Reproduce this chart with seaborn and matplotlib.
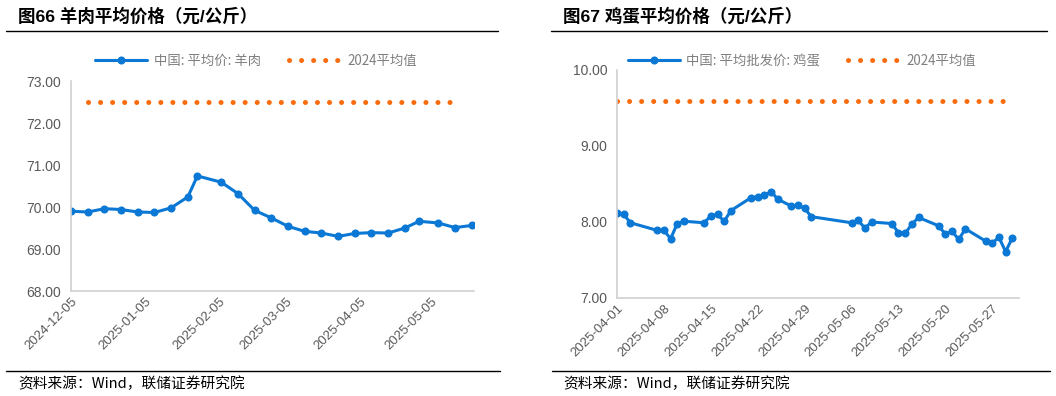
import matplotlib
matplotlib.use("Agg")
import matplotlib.pyplot as plt
import matplotlib.dates as mdates
from matplotlib.lines import Line2D
from matplotlib.ticker import FormatStrFormatter
import seaborn as sns
import pandas as pd

# ---------------- data ----------------
lamb_dates = ["2024-12-05", "2024-12-12", "2024-12-19", "2024-12-26", "2025-01-02",
              "2025-01-09", "2025-01-16", "2025-01-23", "2025-01-27", "2025-02-06",
              "2025-02-13", "2025-02-20", "2025-02-27", "2025-03-06", "2025-03-13",
              "2025-03-20", "2025-03-27", "2025-04-03", "2025-04-10", "2025-04-17",
              "2025-04-24", "2025-04-30", "2025-05-08", "2025-05-15", "2025-05-22"]
lamb_price = [69.90, 69.88, 69.96, 69.94, 69.88, 69.87, 69.98, 70.24, 70.74, 70.59,
              70.32, 69.92, 69.74, 69.54, 69.42, 69.38, 69.30, 69.37, 69.39, 69.38,
              69.50, 69.66, 69.62, 69.51, 69.56]
lamb_avg_dates = ["2024-12-12", "2025-05-13"]
lamb_avg = 72.50

egg_dates = ["2025-04-01", "2025-04-02", "2025-04-03", "2025-04-07", "2025-04-08",
             "2025-04-09", "2025-04-10", "2025-04-11", "2025-04-14", "2025-04-15",
             "2025-04-16", "2025-04-17", "2025-04-18", "2025-04-21", "2025-04-22",
             "2025-04-23", "2025-04-24", "2025-04-25", "2025-04-27", "2025-04-28",
             "2025-04-29", "2025-04-30", "2025-05-06", "2025-05-07", "2025-05-08",
             "2025-05-09", "2025-05-12", "2025-05-13", "2025-05-14", "2025-05-15",
             "2025-05-16", "2025-05-19", "2025-05-20", "2025-05-21", "2025-05-22",
             "2025-05-23", "2025-05-26", "2025-05-27", "2025-05-28", "2025-05-29",
             "2025-05-30"]
egg_price = [8.12, 8.10, 7.99, 7.89, 7.89, 7.78, 7.98, 8.01, 7.99, 8.08,
             8.10, 8.01, 8.15, 8.32, 8.33, 8.35, 8.40, 8.30, 8.21, 8.22,
             8.18, 8.07, 7.99, 8.02, 7.92, 8.00, 7.98, 7.86, 7.85, 7.97,
             8.06, 7.95, 7.84, 7.88, 7.77, 7.91, 7.75, 7.72, 7.80, 7.61,
             7.79]
egg_avg_dates = ["2025-04-01", "2025-05-29"]
egg_avg = 9.59

lamb_ticks = ["2024-12-05", "2025-01-05", "2025-02-05", "2025-03-05", "2025-04-05", "2025-05-05"]
egg_ticks = ["2025-04-01", "2025-04-08", "2025-04-15", "2025-04-22", "2025-04-29",
             "2025-05-06", "2025-05-13", "2025-05-20", "2025-05-27"]
lamb_yticks = [68, 69, 70, 71, 72, 73]
egg_yticks = [7, 8, 9, 10]

titles = ["图66 羊肉平均价格（元/公斤）", "图67 鸡蛋平均价格（元/公斤）"]
series_names = ["中国: 平均价: 羊肉", "中国: 平均批发价: 鸡蛋"]
avg_name = "2024平均值"
source = "资料来源：Wind，联储证券研究院"

# ---------------- style ----------------
sns.set_style("white")
plt.rcParams["font.family"] = ["Liberation Sans", "Noto Sans CJK SC", "DejaVu Sans"]

BLUE = "#0A78D4"
ORANGE = "#F96B0C"
GRAY = "#595959"
SPINE = "#D0D0D0"

fig = plt.figure(figsize=(10.56, 3.96), dpi=100)
W, H = 1056, 396

def fx(px):
    return px / W

def fy(py):
    return 1 - py / H

ax1 = fig.add_axes([fx(71), fy(291), fx(474) - fx(71), fy(81) - fy(291)])
ax2 = fig.add_axes([fx(617), fy(298), fx(1019) - fx(617), fy(70) - fy(298)])

panels = [
    (ax1, lamb_dates, lamb_price, lamb_avg_dates, lamb_avg, lamb_ticks, lamb_yticks,
     ("2024-12-05", "2025-05-23")),
    (ax2, egg_dates, egg_price, egg_avg_dates, egg_avg, egg_ticks, egg_yticks,
     ("2025-04-01", "2025-05-31")),
]

for i, (ax, d, v, ad, av, xt, yt, xl) in enumerate(panels):
    df = pd.DataFrame({"date": pd.to_datetime(d), "price": v})
    dfa = pd.DataFrame({"date": pd.to_datetime(ad), "price": [av, av]})
    sns.lineplot(data=df, x="date", y="price", ax=ax, color=BLUE, lw=2.2,
                 marker="o", markersize=5.8, markeredgewidth=0, label=series_names[i])
    sns.lineplot(data=dfa, x="date", y="price", ax=ax, color=ORANGE, lw=3.6,
                 linestyle=(0, (0.01, 2.4)), dash_capstyle="round", label=avg_name)
    ax.set_xlim(pd.to_datetime(xl[0]), pd.to_datetime(xl[1]))
    ax.set_ylim(yt[0], yt[-1])
    ax.set_yticks(yt)
    ax.yaxis.set_major_formatter(FormatStrFormatter("%.2f"))
    ax.set_xticks(pd.to_datetime(xt))
    ax.xaxis.set_major_formatter(mdates.DateFormatter("%Y-%m-%d"))
    ax.set_xlabel("")
    ax.set_ylabel("")
    for s in ["top", "right"]:
        ax.spines[s].set_visible(False)
    for s in ["left", "bottom"]:
        ax.spines[s].set_color(SPINE)
        ax.spines[s].set_linewidth(1.2)
    ax.tick_params(axis="y", direction="out", length=4, color=SPINE, labelcolor=GRAY,
                   labelsize=10, pad=3, width=1)
    ax.tick_params(axis="x", direction="in", length=4, color=SPINE, labelcolor=GRAY,
                   labelsize=9.5, pad=3, width=1)
    for lab in ax.get_xticklabels():
        lab.set_rotation(45)
        lab.set_ha("right")
        lab.set_rotation_mode("anchor")
    ax.legend().remove()

# legends
leg_pos = [((98 + 415) / 2, 61), ((627 + 977) / 2, 61)]
for ax, (lx, ly) in zip([ax1, ax2], leg_pos):
    h, l = ax.get_legend_handles_labels()
    leg = fig.legend(h, l, loc="center", bbox_to_anchor=(fx(lx), fy(ly)), ncol=2,
                     frameon=False, handlelength=3.9, handletextpad=0.5,
                     columnspacing=2.1, prop={"family": ["Noto Sans CJK SC"], "size": 9.6})
    for t in leg.get_texts():
        t.set_color("#7F7F7F")

# titles, rules, sources
for tx, lx0, lx1, bx0, bx1, title in [(18, 6, 498, 6, 500, titles[0]),
                                       (563, 551, 1047, 552, 1050, titles[1])]:
    fig.text(fx(tx), fy(16), title, fontsize=12.6, fontweight="bold", va="center",
             ha="left", family=["Liberation Sans", "Noto Sans CJK SC"], color="black")
    fig.add_artist(Line2D([fx(lx0), fx(lx1)], [fy(31), fy(31)], color="black", lw=1.0))
    fig.add_artist(Line2D([fx(bx0), fx(bx1)], [fy(371), fy(371)], color="black", lw=1.0))
    fig.text(fx(tx), fy(384), source, fontsize=10.6, va="center", ha="left",
             family=["Noto Sans CJK SC", "Liberation Sans"], color="black")

fig.savefig("out.png", dpi=100)
